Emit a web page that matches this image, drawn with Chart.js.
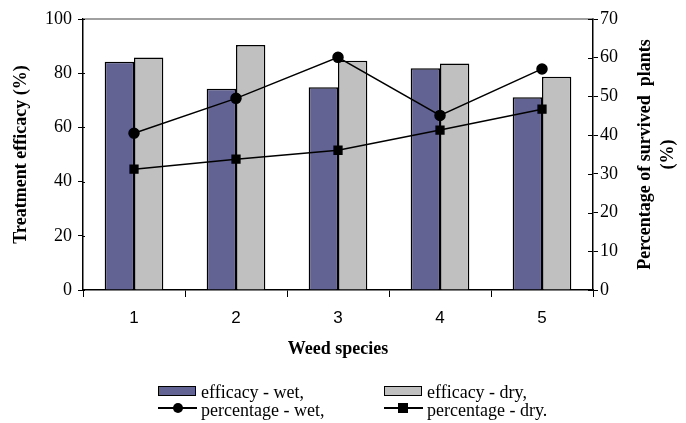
<!DOCTYPE html>
<html>
<head>
<meta charset="utf-8">
<script src="https://cdn.jsdelivr.net/npm/chart.js@4/dist/chart.umd.min.js"></script>
<style>
body { margin: 0; background: #fff; }
#wrap { position: relative; width: 686px; height: 423px; }
canvas { position: absolute; left: 0; top: 0; }
.lg { position: absolute; font: 18px "Liberation Serif", serif; color: #000; line-height: 18px; white-space: nowrap; }
.sw { position: absolute; width: 36px; height: 8px; border: 1.5px solid #000; }
.ln { position: absolute; width: 39px; height: 1.5px; background: #000; }
.dot { position: absolute; width: 10px; height: 10px; border-radius: 50%; background: #000; }
.sq { position: absolute; width: 10px; height: 10px; background: #000; }
</style>
</head>
<body>
<div id="wrap">
  <canvas id="chart" width="686" height="423"></canvas>
  <div class="sw" style="left:158px;top:386px;background:#626293"></div>
  <div class="lg" style="left:201px;top:383px">efficacy - wet,</div>
  <div class="sw" style="left:384px;top:386px;background:#c0c0c0"></div>
  <div class="lg" style="left:427px;top:383px">efficacy - dry,</div>
  <div class="ln" style="left:158px;top:407px"></div>
  <div class="dot" style="left:173px;top:403px"></div>
  <div class="lg" style="left:201px;top:401px">percentage - wet,</div>
  <div class="ln" style="left:384px;top:407px"></div>
  <div class="sq" style="left:398px;top:403px"></div>
  <div class="lg" style="left:427px;top:401px">percentage - dry.</div>
</div>
<script>
const categories = ['1', '2', '3', '4', '5'];
const efficacyWet = [84.2, 74.3, 74.8, 81.8, 71.1];
const efficacyDry = [85.8, 90.4, 84.6, 83.6, 78.7];
const percentWet = [40.5, 49.5, 60.1, 45.1, 57.1];
const percentDry = [31.2, 33.8, 36.1, 41.3, 46.7];

const serif = '"Liberation Serif", "Times New Roman", serif';

// grey top border, inner tick marks, right-hand axis title
const extras = {
    id: 'extras',
    afterDraw(chart) {
        const ctx = chart.ctx;
        const a = chart.chartArea;
        ctx.save();
        ctx.strokeStyle = '#808080';
        ctx.lineWidth = 1.5;
        ctx.beginPath();
        ctx.moveTo(a.left, a.top);
        ctx.lineTo(a.right, a.top);
        ctx.stroke();

        ctx.strokeStyle = '#000';
        ctx.lineWidth = 1;
        const y = chart.scales.y, y1 = chart.scales.y1;
        y.ticks.forEach(t => {
            const py = Math.round(y.getPixelForValue(t.value)) + 0.5;
            ctx.beginPath(); ctx.moveTo(a.left, py); ctx.lineTo(a.left + 2, py); ctx.stroke();
        });
        y1.ticks.forEach(t => {
            const py = Math.round(y1.getPixelForValue(t.value)) + 0.5;
            ctx.beginPath(); ctx.moveTo(a.right - 5, py); ctx.lineTo(a.right, py); ctx.stroke();
        });

        ctx.fillStyle = '#000';
        ctx.font = 'bold 18px ' + serif;
        ctx.textAlign = 'center';
        ctx.textBaseline = 'middle';
        ctx.translate(a.right + 52, (a.top + a.bottom) / 2);
        ctx.rotate(-Math.PI / 2);
        ctx.fillText('Percentage of survived  plants', 0, 0);
        ctx.fillText('(%)', 0, 23);
        ctx.restore();
    }
};

const myChart = new Chart(document.getElementById('chart'), {
    type: 'bar',
    data: {
        labels: categories,
        datasets: [
            {
                label: 'efficacy - wet,',
                data: efficacyWet,
                backgroundColor: '#626293',
                borderColor: '#000',
                borderWidth: 1.5,
                yAxisID: 'y',
                order: 2
            },
            {
                label: 'efficacy - dry,',
                data: efficacyDry,
                backgroundColor: '#c0c0c0',
                borderColor: '#000',
                borderWidth: 1.5,
                yAxisID: 'y',
                order: 2
            },
            {
                type: 'line',
                label: 'percentage - wet,',
                data: percentWet,
                borderColor: '#000',
                backgroundColor: '#000',
                borderWidth: 1.5,
                pointStyle: 'circle',
                pointRadius: 5,
                yAxisID: 'y1',
                order: 1
            },
            {
                type: 'line',
                label: 'percentage - dry.',
                data: percentDry,
                borderColor: '#000',
                backgroundColor: '#000',
                borderWidth: 1.5,
                pointStyle: 'rect',
                pointRadius: 5.5,
                yAxisID: 'y1',
                order: 1
            }
        ]
    },
    options: {
        responsive: false,
        animation: false,
        categoryPercentage: 0.575,
        barPercentage: 1,
        layout: { padding: { left: 7, top: 19, right: 0, bottom: 59 } },
        plugins: {
            legend: { display: false },
            tooltip: { enabled: false }
        },
        scales: {
            x: {
                offset: true,
                grid: { offset: true, drawOnChartArea: false, tickLength: 7, color: '#000' },
                border: { color: '#000', width: 1.5 },
                ticks: { color: '#000', padding: 11, font: { family: '"Liberation Sans", Arial, sans-serif', size: 17 } },
                title: { display: true, text: 'Weed species', color: '#000', font: { family: serif, size: 18, weight: 'bold' } },
                afterFit(s) { s.height = 74; }
            },
            y: {
                position: 'left',
                min: 0,
                max: 100,
                ticks: { stepSize: 20, color: '#000', padding: 6, font: { family: serif, size: 18 } },
                grid: { drawOnChartArea: false, tickLength: 5, color: '#000' },
                border: { color: '#000', width: 1.5 },
                title: { display: true, text: 'Treatment efficacy (%)', color: '#000', font: { family: serif, size: 18, weight: 'bold' } },
                afterFit(s) { s.width = 76; }
            },
            y1: {
                position: 'right',
                min: 0,
                max: 70,
                ticks: { stepSize: 10, color: '#000', padding: 2, font: { family: serif, size: 18 } },
                grid: { drawOnChartArea: false, tickLength: 5, color: '#000' },
                border: { color: '#000', width: 1.5 },
                afterFit(s) { s.width = 93; }
            }
        }
    },
    plugins: [extras]
});
</script>
</body>
</html>
